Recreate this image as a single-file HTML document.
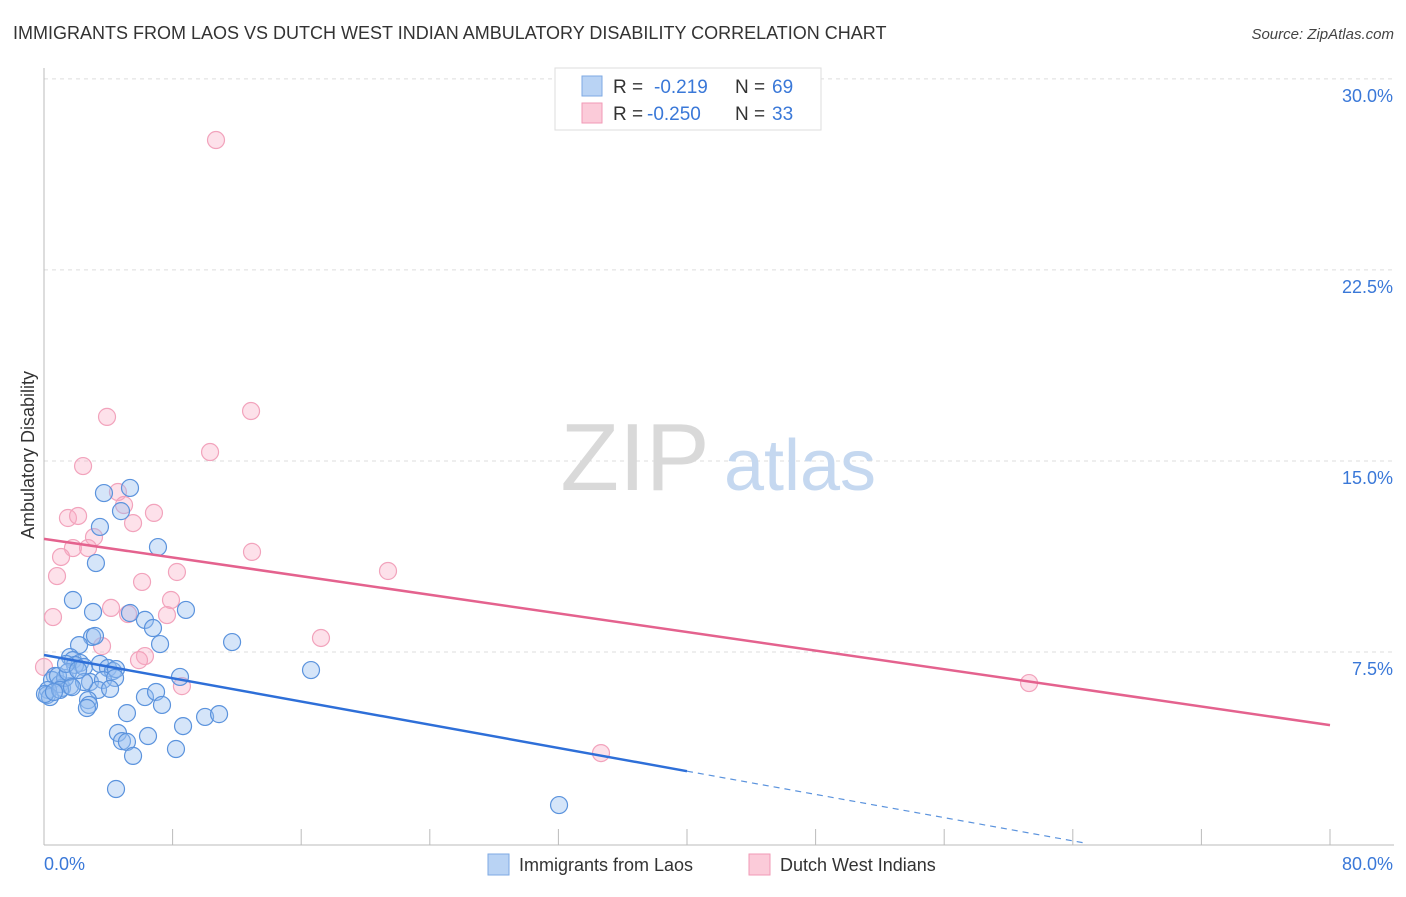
<!DOCTYPE html>
<html><head><meta charset="utf-8"><style>
body{margin:0;background:#fff;font-family:"Liberation Sans",sans-serif;}
svg text{font-family:"Liberation Sans",sans-serif;}
</style></head><body>
<svg id="chart" width="1406" height="892" viewBox="0 0 1406 892" xmlns="http://www.w3.org/2000/svg">
<text x="13" y="39" font-size="18" fill="#333">IMMIGRANTS FROM LAOS VS DUTCH WEST INDIAN AMBULATORY DISABILITY CORRELATION CHART</text>
<text x="1394" y="39" font-size="15" fill="#444" text-anchor="end" font-style="italic">Source: ZipAtlas.com</text>
<g id="grid"></g>
<g>
<text x="635" y="490" font-size="96" fill="#d9d9d9" font-family="Liberation Serif,serif" text-anchor="middle">ZIP</text>
<text x="800" y="490" font-size="72" fill="#c5d8f0" text-anchor="middle">atlas</text>
</g>
<text transform="translate(34,455) rotate(-90)" font-size="18" fill="#333" text-anchor="middle">Ambulatory Disability</text>
<g id="marks"></g>
<g>
<rect x="555" y="68" width="266" height="62" fill="#fff" stroke="#ddd"/>
<rect x="582" y="76" width="20" height="20" fill="#b9d3f4" stroke="#7ea9e3"/>
<text x="613" y="93" font-size="19" fill="#333">R =</text>
<text x="654" y="93" font-size="19" fill="#3a78d8">-0.219</text>
<text x="735" y="93" font-size="19" fill="#333">N =</text>
<text x="772" y="93" font-size="19" fill="#3a78d8">69</text>
<rect x="582" y="103" width="20" height="20" fill="#fbcbd9" stroke="#f19ab6"/>
<text x="613" y="120" font-size="19" fill="#333">R =</text>
<text x="647" y="120" font-size="19" fill="#3a78d8">-0.250</text>
<text x="735" y="120" font-size="19" fill="#333">N =</text>
<text x="772" y="120" font-size="19" fill="#3a78d8">33</text>
</g>
<g>
<rect x="488" y="854" width="21" height="21" fill="#b9d3f4" stroke="#7ea9e3"/>
<text x="519" y="871" font-size="18" fill="#333">Immigrants from Laos</text>
<rect x="749" y="854" width="21" height="21" fill="#fbcbd9" stroke="#f19ab6"/>
<text x="780" y="871" font-size="18" fill="#333">Dutch West Indians</text>
</g>
</svg>
<script>
const yTicks=[7.5,15,22.5,30];
const yTickLabels=["7.5%","15.0%","22.5%","30.0%"];
const xTickLabels=["0.0%","80.0%"];
const blueX=[3.73,5.35,4.79,3.48,3.23,7.09,1.80,3.05,5.35,8.83,6.28,6.78,2.99,3.17,7.22,11.70,2.18,16.61,1.62,1.80,2.24,1.93,2.49,3.48,3.98,4.29,4.48,0.68,0.50,1.00,1.12,0.25,0.19,0.37,1.62,2.86,3.67,4.42,3.36,4.11,2.74,2.80,6.28,6.97,8.46,7.34,5.16,8.65,10.02,10.89,4.60,6.47,4.85,5.16,5.54,8.21,4.48,32.04,1.31,0.87,0.06,2.49,1.49,2.67,1.00,1.74,0.62,1.37,2.12];
const blueY=[13.74,13.94,13.03,12.41,10.99,11.62,9.54,9.07,9.03,9.15,8.76,8.44,8.09,8.13,7.81,7.89,7.77,6.79,7.30,7.18,7.07,6.99,6.91,7.03,6.87,6.75,6.83,6.56,6.40,6.24,6.09,6.01,5.81,5.73,6.16,6.32,6.40,6.48,6.01,6.05,5.61,5.42,5.73,5.93,6.52,5.42,5.10,4.59,4.95,5.06,4.32,4.20,4.00,3.97,3.42,3.69,2.12,1.49,6.48,6.56,5.85,6.32,6.71,5.30,6.01,6.12,5.93,7.03,6.79];
const pinkX=[10.70,12.88,3.92,10.33,2.43,4.60,4.98,1.49,2.12,6.84,5.54,3.11,1.80,2.74,1.06,12.94,0.81,6.10,8.27,21.40,7.90,0.56,4.17,7.65,5.23,3.61,6.28,5.91,17.23,8.58,61.28,34.65,0.0];
const pinkY=[27.60,16.96,16.73,15.35,14.80,13.78,13.27,12.76,12.84,12.96,12.56,12.01,11.58,11.58,11.23,11.43,10.48,10.25,10.64,10.68,9.54,8.87,9.23,8.95,8.99,7.73,7.34,7.18,8.05,6.16,6.28,3.53,6.91];
const blueTrend=[7.38,-0.114];
const pinkTrend=[11.94,-0.0914];
const NS="http://www.w3.org/2000/svg";
const X=v=>44+v*16.075, Y=v=>843-v*25.47;
function mk(t,a,p){const e=document.createElementNS(NS,t);for(const k in a)e.setAttribute(k,a[k]);p.appendChild(e);return e;}
const grid=document.getElementById('grid'), marks=document.getElementById('marks');
yTicks.forEach((t,i)=>{
 const l=mk('line',{x1:44,x2:1394,y1:Y(t)-0,y2:Y(t),stroke:'#ddd','stroke-dasharray':'4,4'},grid);
 
 
 const tx=mk('text',{x:1393,y:Y(t)+23,'font-size':18,fill:'#3a78d8','text-anchor':'end'},grid);
 tx.textContent=yTickLabels[i];
 
 
});
const ax=mk('line',{x1:44,x2:44,y1:68,y2:845,stroke:'#bbb'},grid);


const bx=mk('line',{x1:44,x2:1394,y1:845,y2:845,stroke:'#bbb'},grid);


for(let i=0;i<=10;i++){const tk=mk('line',{x1:X(i*8),x2:X(i*8),y1:829,y2:845,stroke:'#bbb'},grid);
 
 }
[[0,44,'start'],[80,1393,'end']].forEach((d,i)=>{const t=mk('text',{x:d[1],y:870,'font-size':18,fill:'#3a78d8','text-anchor':d[2]},grid);t.textContent=xTickLabels[i];
 
 });
pinkX.forEach((x,i)=>{const c=mk('circle',{cx:X(x),cy:Y(pinkY[i]),r:8.5,fill:'rgba(248,170,195,0.35)',stroke:'#f2a3bc','stroke-width':1.2},marks);
 
 });
blueX.forEach((x,i)=>{const c=mk('circle',{cx:X(x),cy:Y(blueY[i]),r:8.5,fill:'rgba(150,190,240,0.4)',stroke:'#5b93dd','stroke-width':1.2},marks);
 
 });
const bEnd=-blueTrend[0]/blueTrend[1];
const bl=mk('line',{x1:X(0),y1:Y(blueTrend[0]),x2:X(40),y2:Y(blueTrend[0]+blueTrend[1]*40),stroke:'#2e6fd8','stroke-width':2.5},marks);


const bd=mk('line',{x1:X(40),y1:Y(blueTrend[0]+blueTrend[1]*40),x2:X(bEnd),y2:Y(0),stroke:'#5b93dd','stroke-width':1.2,'stroke-dasharray':'6,5'},marks);


const pl=mk('line',{x1:X(0),y1:Y(pinkTrend[0]),x2:X(80),y2:Y(pinkTrend[0]+pinkTrend[1]*80),stroke:'#e4628e','stroke-width':2.5},marks);


</script>
</body></html>
